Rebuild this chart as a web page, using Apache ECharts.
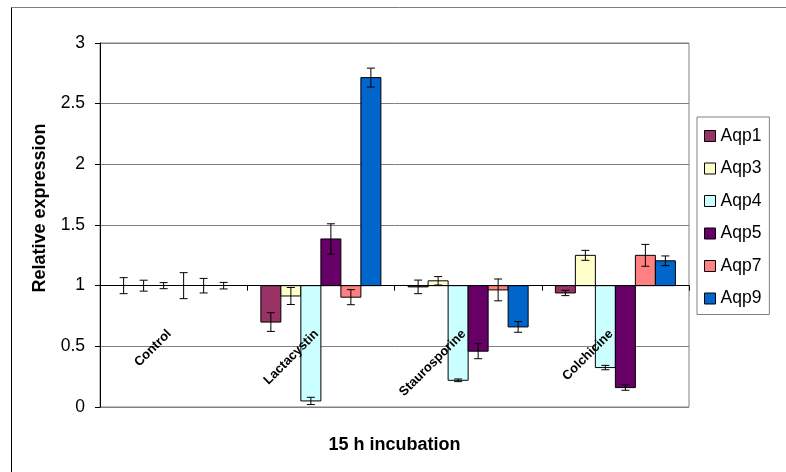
<!DOCTYPE html>
<html>
<head>
<meta charset="utf-8">
<script src="https://cdn.jsdelivr.net/npm/echarts@6/dist/echarts.min.js"></script>
<style>html,body{margin:0;padding:0;background:#fff}#c{width:786px;height:472px}</style>
</head>
<body>
<div id="c"></div>
<script>
var categories = ['Control', 'Lactacystin', 'Staurosporine', 'Colchicine'];
var seriesNames = ['Aqp1', 'Aqp3', 'Aqp4', 'Aqp5', 'Aqp7', 'Aqp9'];
var aqp1 = [1, 0.70, 0.99, 0.94];
var aqp1Err = [0.066, 0.077, 0.056, 0.022];
var aqp3 = [1, 0.915, 1.04, 1.25];
var aqp3Err = [0.045, 0.07, 0.035, 0.041];
var aqp4 = [1, 0.05, 0.22, 0.325];
var aqp4Err = [0.025, 0.03, 0.011, 0.018];
var aqp5 = [1, 1.385, 0.46, 0.16];
var aqp5Err = [0.107, 0.125, 0.062, 0.022];
var aqp7 = [1, 0.905, 0.965, 1.25];
var aqp7Err = [0.06, 0.062, 0.09, 0.09];
var aqp9 = [1, 2.715, 0.66, 1.205];
var aqp9Err = [0.027, 0.078, 0.044, 0.04];
var yTicks = [0, 0.5, 1, 1.5, 2, 2.5, 3];
var baseline = 1;

var values = [aqp1, aqp3, aqp4, aqp5, aqp7, aqp9];
var errors = [aqp1Err, aqp3Err, aqp4Err, aqp5Err, aqp7Err, aqp9Err];
var colors = ['#993366', '#FFFFCC', '#CCFFFF', '#660066', '#FF8080', '#0066CC'];
var FONT = 'Arial, "Liberation Sans", sans-serif';
var nSeries = seriesNames.length;
var catGap = 0.185;

function makeRender(si) {
  return function (params, api) {
    var cat = api.value(0), v = api.value(1), e = api.value(2);
    var bw = api.size([1, 0])[0];
    var barW = bw * (1 - catGap) / nSeries;
    var c = api.coord([cat, baseline]);
    var x0 = c[0] - barW * nSeries / 2 + si * barW;
    var yb = c[1];
    var yv = api.coord([cat, v])[1];
    var yLo = api.coord([cat, v - e])[1];
    var yHi = api.coord([cat, v + e])[1];
    var xc = x0 + barW / 2;
    var children = [];
    if (Math.abs(yv - yb) > 0.5) {
      children.push({
        type: 'rect',
        shape: { x: x0, y: Math.min(yb, yv), width: barW, height: Math.abs(yv - yb) },
        style: { fill: colors[si], stroke: '#000', lineWidth: 1 }
      });
    }
    var es = { stroke: '#000', lineWidth: 1 };
    children.push({ type: 'line', shape: { x1: xc, y1: yLo, x2: xc, y2: yHi }, style: es });
    children.push({ type: 'line', shape: { x1: xc - 4, y1: yLo, x2: xc + 4, y2: yLo }, style: es });
    children.push({ type: 'line', shape: { x1: xc - 4, y1: yHi, x2: xc + 4, y2: yHi }, style: es });
    return { type: 'group', children: children };
  };
}

var series = seriesNames.map(function (name, si) {
  return {
    name: name,
    type: 'custom',
    xAxisIndex: 0,
    yAxisIndex: 0,
    itemStyle: { color: colors[si] },
    renderItem: makeRender(si),
    encode: { x: 0, y: 1 },
    data: categories.map(function (c, ci) { return [ci, values[si][ci], errors[si][ci]]; }),
    z: 3
  };
});

var chart = echarts.init(document.getElementById('c'), null, { renderer: 'canvas' });
chart.setOption({
  animation: false,
  backgroundColor: '#fff',
  grid: {
    left: 100, top: 43, width: 589, height: 364,
    show: true, borderColor: '#808080', borderWidth: 1, backgroundColor: 'transparent'
  },
  graphic: [
    { type: 'line', shape: { x1: 11.5, y1: 7.5, x2: 800, y2: 7.5 }, style: { stroke: '#808080', lineWidth: 1 }, z: 0 },
    { type: 'line', shape: { x1: 11.5, y1: 7.5, x2: 11.5, y2: 480 }, style: { stroke: '#000', lineWidth: 1 }, z: 0 }
  ],
  legend: {
    orient: 'vertical',
    left: 697, top: 117,
    width: 73, height: 195,
    padding: [10, 8, 7, 7],
    itemGap: 14.5,
    itemWidth: 11, itemHeight: 11,
    icon: 'rect',
    backgroundColor: '#fff',
    borderColor: '#808080', borderWidth: 1,
    itemStyle: { borderColor: '#000', borderWidth: 1 },
    textStyle: { fontFamily: FONT, fontSize: 17.5, color: '#000', lineHeight: 17.5 },
    data: seriesNames
  },
  xAxis: [{
    type: 'category',
    data: categories,
    position: 'bottom',
    offset: -364 / 3,
    boundaryGap: true,
    axisLine: { show: true, lineStyle: { color: '#000', width: 1 } },
    axisTick: { show: true, inside: false, length: 5, lineStyle: { color: '#000' } },
    axisLabel: {
      show: true, rotate: 45, margin: 42, interval: 0,
      padding: [0, 6, 0, 0],
      fontFamily: FONT, fontSize: 13, fontWeight: 'bold', color: '#000'
    },
    splitLine: { show: false },
    name: '15 h incubation',
    nameLocation: 'middle',
    nameGap: 150,
    nameTextStyle: { fontFamily: FONT, fontSize: 18, fontWeight: 'bold', color: '#000' },
    z: 4
  }],
  yAxis: [{
    type: 'value',
    min: yTicks[0], max: yTicks[yTicks.length - 1], interval: 0.5,
    axisLine: { show: true, lineStyle: { color: '#000', width: 1 } },
    axisTick: { show: true, inside: false, length: 5, lineStyle: { color: '#000' } },
    axisLabel: { fontFamily: FONT, fontSize: 17.5, color: '#000', margin: 15 },
    splitLine: { show: true, lineStyle: { color: '#808080', width: 1 } },
    name: 'Relative expression',
    nameLocation: 'middle',
    nameGap: 51,
    nameTextStyle: { fontFamily: FONT, fontSize: 18, fontWeight: 'bold', color: '#000', padding: [0, 0, 0, 34] }
  }],
  series: series
});
</script>
</body>
</html>
